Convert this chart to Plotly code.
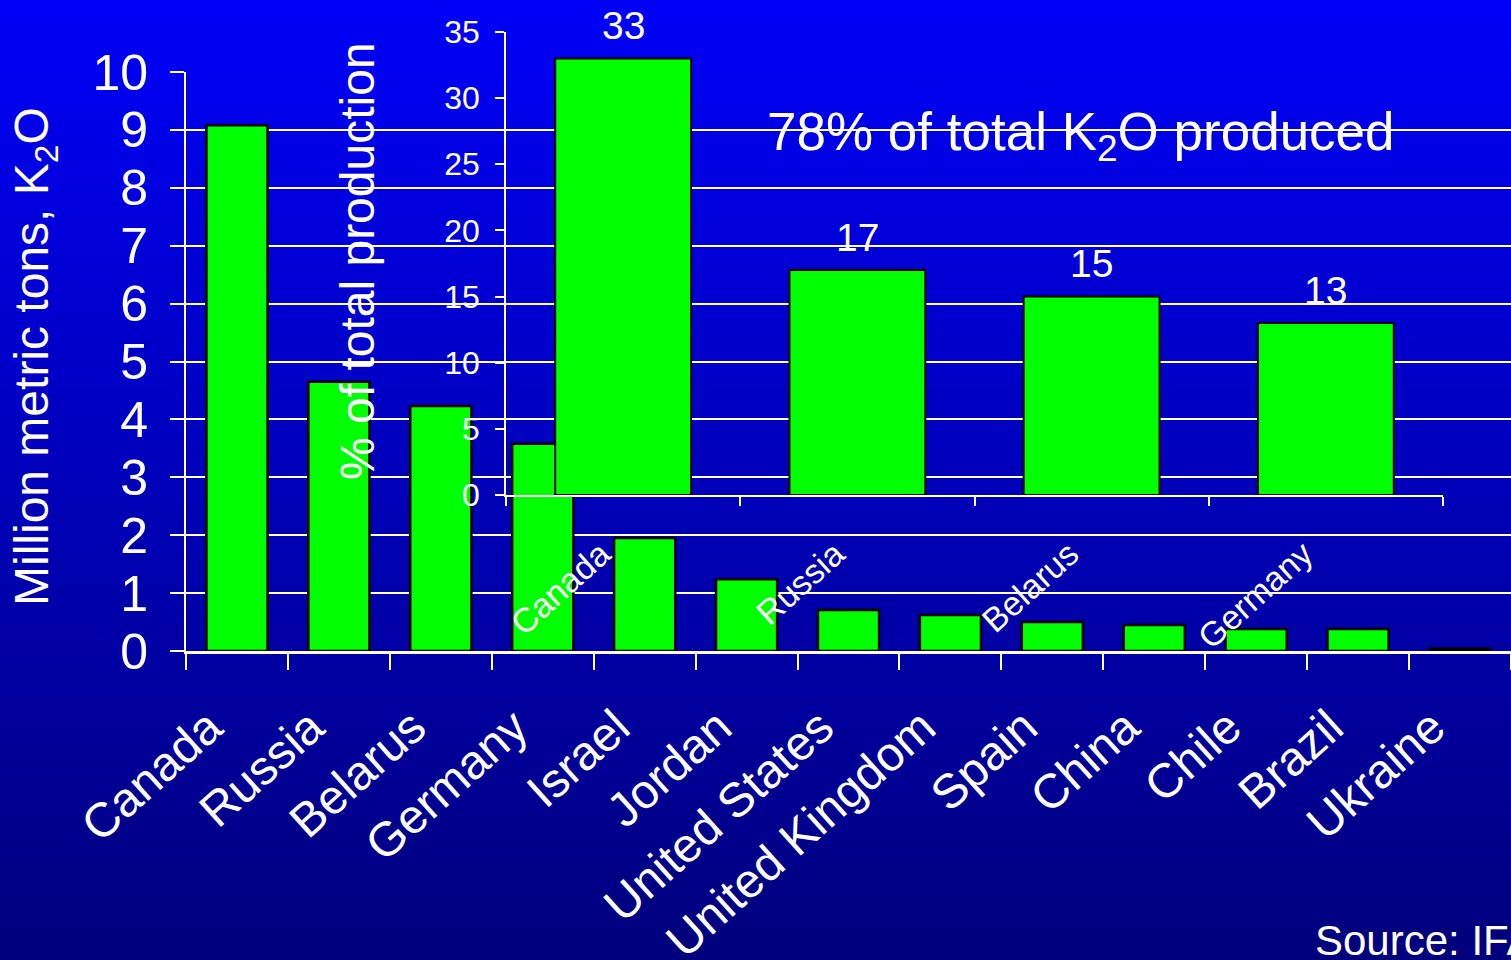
import plotly.graph_objects as go

# ---------------- data ----------------
countries = ["Canada", "Russia", "Belarus", "Germany", "Israel", "Jordan",
             "United States", "United Kingdom", "Spain", "China", "Chile",
             "Brazil", "Ukraine"]
production_mt = [9.08, 4.65, 4.23, 3.58, 1.95, 1.24, 0.71, 0.62, 0.50,
                 0.45, 0.38, 0.38, 0.04]

inset_countries = ["Canada", "Russia", "Belarus", "Germany"]
inset_share_pct = [33, 17, 15, 13]

main_ticks = list(range(0, 11))
inset_ticks = list(range(0, 36, 5))

y_title = "Million metric tons, K<sub>2</sub>O"
inset_y_title = "% of total production"
headline = "78% of total K<sub>2</sub>O produced"
source_text = "Source: IFA"

# ---------------- layout constants ----------------
W, H = 1511, 960
FONT = "Liberation Sans, Arial, sans-serif"
GREEN = "#00FF00"


def px_x(x):
    return x / W


def px_y(y):
    return 1 - y / H


fig = go.Figure()

fig.add_trace(go.Bar(
    x=countries, y=production_mt, xaxis="x", yaxis="y",
    width=0.6,
    marker=dict(color=GREEN, line=dict(color="black", width=2.5)),
    hoverinfo="x+y", showlegend=False,
))

fig.add_trace(go.Bar(
    x=inset_countries, y=inset_share_pct, xaxis="x2", yaxis="y2",
    width=0.58,
    marker=dict(color=GREEN, line=dict(color="black", width=2)),
    hoverinfo="x+y", showlegend=False,
))

# background gradient (bright blue top -> navy bottom)
shapes = []
n_bands = 96
top_rgb = (0, 0, 248)
bot_rgb = (0, 0, 124)
for i in range(n_bands):
    t = (i + 0.5) / n_bands
    b = round(top_rgb[2] + (bot_rgb[2] - top_rgb[2]) * t)
    shapes.append(dict(
        type="rect", xref="paper", yref="paper", layer="below",
        x0=-0.01, x1=1.01,
        y0=1 - (i + 1) / n_bands - 0.002, y1=1 - i / n_bands + 0.002,
        line=dict(width=0), fillcolor=f"rgb(0,0,{b})",
    ))

annotations = [
    dict(text=y_title, x=px_x(35), y=px_y(357), xref="paper", yref="paper",
         textangle=-90, showarrow=False, xanchor="center", yanchor="middle",
         font=dict(size=48, color="white", family=FONT)),
    dict(text=inset_y_title, x=px_x(357), y=px_y(261), xref="paper", yref="paper",
         textangle=-90, showarrow=False, xanchor="center", yanchor="middle",
         font=dict(size=48, color="white", family=FONT)),
    dict(text=headline, x=px_x(1081), y=px_y(135), xref="paper", yref="paper",
         showarrow=False, xanchor="center", yanchor="middle",
         font=dict(size=53, color="white", family=FONT)),
    dict(text=source_text, x=px_x(1313), y=px_y(940), xref="paper", yref="paper",
         showarrow=False, xanchor="left", yanchor="middle",
         font=dict(size=42, color="white", family=FONT)),
]
# value labels above the inset bars
for c, v in zip(inset_countries, inset_share_pct):
    annotations.append(dict(
        text=str(v), x=c, y=v, xref="x2", yref="y2", showarrow=False,
        xanchor="center", yanchor="middle", yshift=33,
        font=dict(size=39, color="white", family=FONT)))

fig.update_layout(
    template="none",
    width=W, height=H,
    margin=dict(l=0, r=0, t=0, b=0, pad=0, autoexpand=False),
    paper_bgcolor="rgb(0,0,185)",
    plot_bgcolor="rgba(0,0,0,0)",
    font=dict(family=FONT, color="white"),
    shapes=shapes,
    showlegend=False,
    xaxis=dict(
        domain=[px_x(186), 1.0], anchor="y", type="category", automargin=False,
        categoryorder="array", categoryarray=countries,
        range=[-0.5, len(countries) - 0.5],
        showline=True, linecolor="white", linewidth=3,
        ticks="outside", ticklen=16, tickwidth=2, tickcolor="white",
        tickson="boundaries", showgrid=False, zeroline=False,
        tickangle=-42, tickfont=dict(size=48, color="white", family=FONT),
        ticklabelstandoff=26, ticklabelshift=-28,
    ),
    yaxis=dict(
        domain=[px_y(651), px_y(72)], anchor="x", automargin=False,
        range=[0, 10], tickmode="array", tickvals=main_ticks,
        showline=True, linecolor="white", linewidth=2,
        ticks="outside", ticklen=14, tickwidth=2, tickcolor="white",
        showgrid=True, gridcolor="white", gridwidth=2, zeroline=False,
        tickfont=dict(size=50, color="white", family=FONT),
        ticklabelstandoff=12,
    ),
    xaxis2=dict(
        domain=[px_x(506), px_x(1443)], anchor="y2", type="category", automargin=False,
        categoryorder="array", categoryarray=inset_countries,
        range=[-0.5, len(inset_countries) - 0.5],
        showline=True, linecolor="white", linewidth=1.5,
        ticks="outside", ticklen=9, tickwidth=1.5, tickcolor="white",
        tickson="boundaries", showgrid=False, zeroline=False,
        tickangle=-42, tickfont=dict(size=34, color="white", family=FONT),
        ticklabelstandoff=24, ticklabelshift=-22,
    ),
    yaxis2=dict(
        domain=[px_y(495), px_y(32)], anchor="x2", automargin=False,
        range=[0, 35], tickmode="array", tickvals=inset_ticks,
        showline=True, linecolor="white", linewidth=1.5,
        ticks="outside", ticklen=9, tickwidth=1.5, tickcolor="white",
        showgrid=False, zeroline=False,
        tickfont=dict(size=32, color="white", family=FONT),
        ticklabelstandoff=9,
    ),
    annotations=annotations,
)

fig.write_html("out.html")
